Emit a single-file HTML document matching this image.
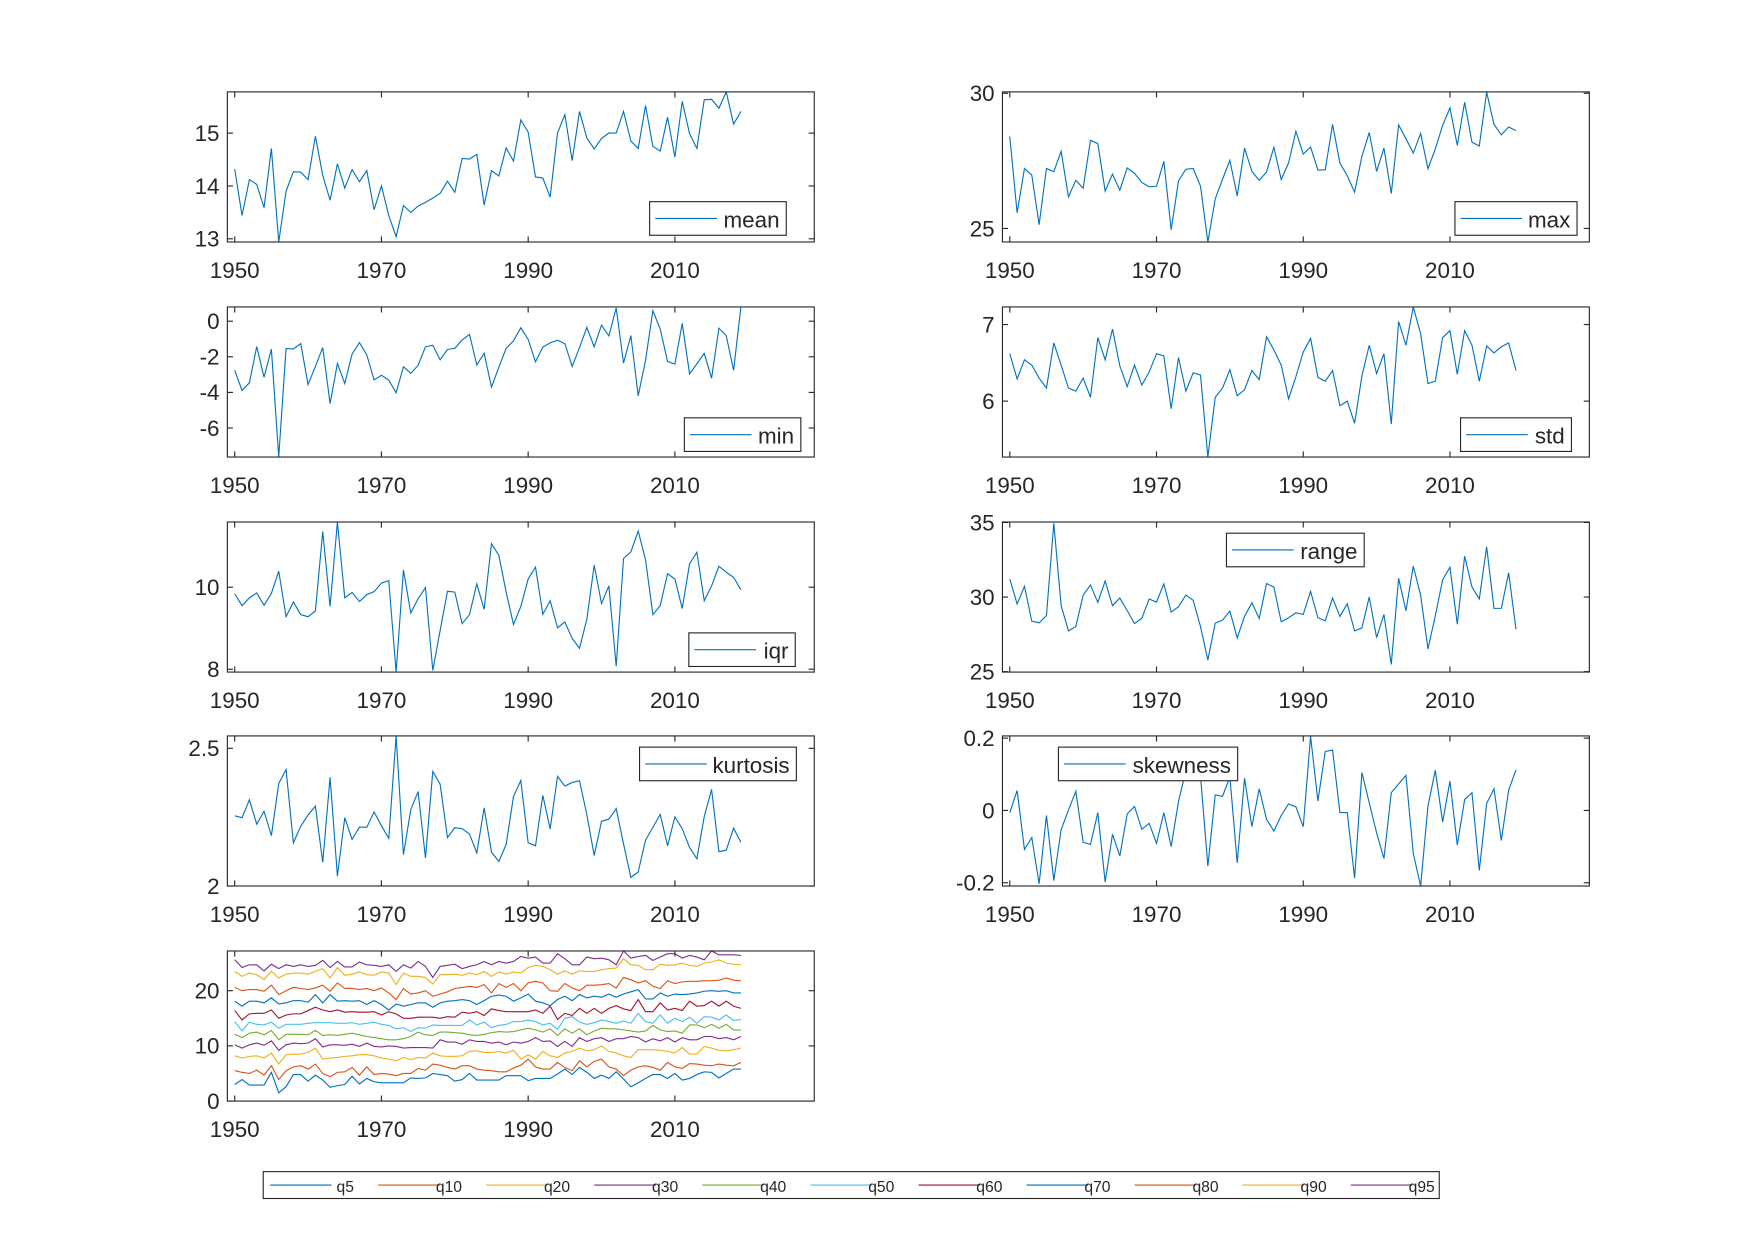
<!DOCTYPE html>
<html><head><meta charset="utf-8"><style>
html,body{margin:0;padding:0;background:#fff;}
svg{display:block;}
text{font-family:"Liberation Sans",Arial,sans-serif;fill:#262626;}
</style></head><body>
<svg id="fig" width="1754" height="1240" viewBox="0 0 1566 1107" xmlns="http://www.w3.org/2000/svg"></svg>
<script>
const years = []; for (let y = 1950; y <= 2019; y++) years.push(y);
const xTicks = [1950, 1970, 1990, 2010];

const meanVals = [14.32,13.44,14.12,14.03,13.59,14.71,12.94,13.9,14.27,14.26,14.12,14.94,14.2,13.73,14.42,13.96,14.31,14.08,14.29,13.55,14.0,13.44,13.04,13.63,13.5,13.62,13.69,13.77,13.86,14.09,13.88,14.52,14.51,14.6,13.64,14.29,14.19,14.72,14.47,15.25,15.02,14.17,14.15,13.79,15.0,15.35,14.48,15.41,14.91,14.7,14.9,15.0,15.0,15.41,14.85,14.71,15.52,14.75,14.66,15.3,14.55,15.6,14.99,14.71,15.63,15.64,15.47,15.78,15.17,15.41];
const maxVals = [28.4,25.58,27.22,26.97,25.14,27.22,27.1,27.85,26.17,26.78,26.49,28.26,28.14,26.38,27.01,26.41,27.24,27.04,26.7,26.54,26.56,27.48,24.95,26.76,27.19,27.22,26.56,24.5,26.09,26.82,27.52,26.2,27.97,27.11,26.78,27.09,28.0,26.81,27.42,28.59,27.75,28.01,27.16,27.17,28.85,27.42,26.95,26.34,27.67,28.55,27.11,27.97,26.29,28.83,28.32,27.79,28.51,27.21,27.94,28.81,29.46,28.07,29.67,28.19,28.05,30.04,28.85,28.46,28.75,28.62];
const minVals = [-2.76,-3.89,-3.46,-1.43,-3.15,-1.57,-7.63,-1.54,-1.56,-1.26,-3.56,-2.54,-1.48,-4.63,-2.37,-3.5,-1.85,-1.2,-1.89,-3.3,-3.04,-3.31,-4.02,-2.56,-2.93,-2.48,-1.44,-1.35,-2.17,-1.59,-1.52,-1.06,-0.74,-2.46,-1.8,-3.7,-2.59,-1.52,-1.11,-0.37,-1.02,-2.28,-1.46,-1.22,-1.07,-1.26,-2.54,-1.48,-0.35,-1.44,-0.22,-0.83,0.74,-2.35,-0.81,-4.19,-2.2,0.59,-0.44,-2.26,-2.41,-0.13,-2.96,-2.39,-1.81,-3.2,-0.39,-0.81,-2.76,0.8];
const stdVals = [6.62,6.29,6.54,6.47,6.3,6.17,6.76,6.47,6.17,6.13,6.3,6.05,6.83,6.54,6.94,6.46,6.19,6.47,6.21,6.38,6.62,6.59,5.9,6.57,6.13,6.37,6.34,5.27,6.05,6.17,6.41,6.07,6.15,6.4,6.28,6.84,6.67,6.47,6.03,6.32,6.64,6.82,6.31,6.26,6.4,5.94,6.0,5.71,6.33,6.73,6.36,6.62,5.7,7.04,6.73,7.23,6.88,6.23,6.26,6.83,6.92,6.35,6.92,6.73,6.26,6.72,6.63,6.71,6.76,6.4];
const iqrVals = [9.84,9.55,9.74,9.86,9.56,9.85,10.39,9.28,9.64,9.33,9.28,9.42,11.36,9.53,11.59,9.74,9.87,9.65,9.82,9.89,10.1,10.16,7.93,10.42,9.37,9.72,9.99,7.97,8.94,9.9,9.88,9.11,9.33,10.08,9.46,11.06,10.78,9.88,9.09,9.53,10.2,10.49,9.34,9.67,9.01,9.15,8.75,8.51,9.22,10.54,9.6,10.03,8.07,10.7,10.86,11.37,10.67,9.33,9.55,10.33,10.2,9.48,10.57,10.85,9.67,10.03,10.51,10.37,10.24,9.94];
const rangeVals = [31.21,29.53,30.72,28.38,28.27,28.76,34.94,29.42,27.73,28.02,30.13,30.81,29.64,31.08,29.42,29.93,29.1,28.22,28.58,29.87,29.66,30.88,28.99,29.35,30.13,29.78,28.02,25.78,28.25,28.45,29.06,27.26,28.7,29.62,28.56,30.9,30.67,28.34,28.61,28.94,28.83,30.38,28.61,28.4,29.93,28.7,29.55,27.73,27.93,30.0,27.28,28.83,25.48,31.26,29.08,32.07,30.13,26.52,28.74,31.15,32.0,28.18,32.74,30.67,29.87,33.37,29.24,29.24,31.62,27.84];
const kurtVals = [2.255,2.248,2.313,2.225,2.271,2.183,2.372,2.423,2.157,2.217,2.258,2.29,2.086,2.395,2.036,2.248,2.169,2.214,2.213,2.269,2.219,2.173,2.545,2.114,2.277,2.343,2.102,2.416,2.37,2.176,2.212,2.208,2.189,2.12,2.284,2.123,2.089,2.151,2.325,2.383,2.157,2.146,2.329,2.207,2.398,2.363,2.376,2.382,2.259,2.111,2.235,2.243,2.281,2.153,2.031,2.051,2.167,2.213,2.26,2.146,2.251,2.208,2.14,2.099,2.252,2.351,2.125,2.13,2.21,2.159];
const skewVals = [-0.006,0.055,-0.108,-0.075,-0.203,-0.014,-0.194,-0.053,0.001,0.053,-0.088,-0.094,-0.006,-0.198,-0.066,-0.126,-0.01,0.011,-0.052,-0.036,-0.091,-0.006,-0.1,0.025,0.11,0.084,0.095,-0.154,0.043,0.039,0.093,-0.145,0.089,-0.045,0.06,-0.025,-0.057,-0.014,0.018,0.01,-0.045,0.205,0.026,0.163,0.167,-0.006,-0.006,-0.187,0.105,0.021,-0.062,-0.133,0.049,0.073,0.097,-0.119,-0.209,0.012,0.111,-0.032,0.081,-0.096,0.03,0.049,-0.166,0.019,0.06,-0.083,0.056,0.112];

const q5 = [3.0,3.9,2.9,2.9,2.9,5.2,1.5,2.6,4.8,4.8,3.6,4.7,3.8,2.5,2.8,3.0,4.5,3.1,4.1,3.5,3.3,3.3,3.3,3.3,4.2,4.1,4.2,5.0,4.8,4.6,3.6,3.9,5.0,3.8,3.8,3.8,3.8,4.6,4.6,4.6,3.7,4.1,4.1,4.1,4.9,5.8,4.8,6.1,5.2,4.1,4.7,4.1,5.3,4.0,2.6,3.3,4.1,4.8,4.8,4.1,5.0,3.8,4.1,4.8,5.3,5.2,4.2,5.0,5.8,5.8];
const q10 = [5.5,5.2,5.0,5.6,4.7,6.4,3.9,5.5,6.2,6.4,5.8,6.7,5.0,4.4,5.2,5.3,6.1,4.7,6.2,4.8,5.0,4.9,4.6,5.0,5.0,5.9,5.6,6.7,6.5,6.1,5.8,6.4,6.4,5.8,5.6,5.5,5.3,5.3,6.0,6.5,7.6,6.2,5.8,5.8,7.0,6.1,5.5,7.3,6.2,7.2,7.6,6.2,5.8,4.6,5.6,6.2,6.4,6.1,5.6,7.0,6.2,5.9,6.8,6.7,6.5,6.4,6.7,6.5,6.4,7.0];
const q20 = [8.2,7.8,8.1,8.2,7.8,8.7,6.7,8.4,8.5,8.5,8.8,9.6,7.6,7.8,7.9,8.1,8.2,8.4,8.4,8.2,7.8,7.6,7.3,7.9,7.5,7.9,7.8,8.7,8.2,8.1,8.1,8.2,9.0,9.1,8.8,8.8,9.0,8.7,9.2,7.6,8.4,7.6,9.0,8.2,7.9,8.7,9.0,9.6,9.1,9.3,10.0,9.0,8.7,8.2,7.9,9.3,9.3,9.3,9.2,9.0,8.7,9.7,8.5,8.5,9.9,9.6,9.2,9.1,9.3,9.6];
const q30 = [10.2,9.6,10.2,10.5,10.1,10.9,9.2,10.2,10.5,10.4,10.5,11.3,9.8,10.2,10.2,10.1,10.3,9.9,10.5,9.9,9.8,10.0,9.9,9.6,9.7,9.7,9.7,9.6,11.1,10.7,10.7,10.3,11.1,10.8,10.8,10.5,10.7,10.2,10.7,10.5,10.8,11.5,10.8,10.9,9.9,10.8,9.9,11.5,10.8,11.3,11.5,10.8,11.3,11.3,11.7,11.5,10.7,11.3,10.9,11.5,10.7,11.5,11.1,11.1,11.7,11.7,11.3,11.5,11.1,11.7];
const q40 = [12.1,11.5,12.3,12.5,12.0,12.8,11.1,12.1,12.1,12.1,12.0,12.8,11.9,12.0,11.9,12.1,12.3,12.0,11.7,11.5,11.3,11.1,11.1,11.3,11.7,12.5,12.0,11.9,12.5,12.5,12.4,12.3,12.0,11.9,12.1,12.4,12.6,12.5,12.6,12.9,13.2,12.9,12.5,13.1,11.9,13.1,12.3,13.1,12.0,12.7,13.2,13.1,13.1,12.9,12.7,12.5,12.7,13.7,12.9,12.6,12.7,12.3,13.8,13.8,13.3,13.9,13.2,13.9,12.9,12.9];
const q50 = [14.4,12.7,14.3,13.9,13.8,14.3,13.2,13.9,13.9,13.9,14.1,14.2,14.2,14.2,14.1,14.1,14.2,13.9,14.1,14.3,13.9,13.7,13.1,13.3,12.6,13.3,13.2,13.8,13.7,13.7,13.7,13.7,14.7,13.8,14.3,13.3,13.7,13.9,14.4,14.4,14.7,14.4,13.8,14.1,13.0,15.0,15.3,14.3,13.9,14.2,14.7,14.4,14.1,14.5,14.1,15.9,14.4,14.1,15.6,14.1,15.0,14.4,15.2,14.1,15.3,15.2,14.7,15.6,14.6,14.8];
const q60 = [16.4,14.7,15.8,15.9,15.9,16.5,15.0,15.6,15.8,15.8,16.4,17.0,16.5,16.2,16.5,16.1,16.2,16.1,16.1,16.2,15.6,16.2,15.8,15.0,15.0,15.2,15.2,15.2,15.0,15.3,15.2,16.1,15.9,16.2,15.5,16.7,16.4,16.2,16.2,16.2,16.2,16.5,15.9,17.2,14.8,15.9,15.5,16.8,15.9,16.8,15.9,16.8,17.3,16.7,16.4,18.4,16.2,16.2,17.8,16.5,16.8,16.4,18.1,17.2,17.3,18.1,17.2,18.1,17.2,16.8];
const q70 = [18.1,17.2,18.1,18.1,17.8,18.7,17.6,17.8,18.2,18.2,17.9,19.3,17.8,19.3,18.1,18.2,18.1,18.2,17.5,18.2,17.5,16.5,17.6,17.2,17.5,17.8,17.8,17.0,17.8,18.1,18.2,18.4,18.2,17.5,18.2,19.0,19.2,19.0,18.1,18.7,19.4,18.1,17.8,17.3,18.4,19.0,18.2,19.3,18.7,19.0,18.8,19.4,18.8,19.4,19.8,20.2,18.5,18.5,19.6,19.0,19.4,19.3,19.4,19.6,19.9,20.0,19.9,20.0,19.6,19.6];
const q80 = [20.6,20.0,20.2,20.2,19.9,21.0,19.3,20.0,20.6,20.4,20.2,20.5,21.0,19.9,21.4,20.4,20.4,20.2,20.4,20.0,20.5,19.6,18.4,20.4,19.4,19.6,20.0,19.0,19.4,19.8,20.4,20.6,20.8,20.6,21.1,19.6,21.3,20.6,21.3,20.0,21.4,21.7,21.4,20.0,19.9,21.3,20.5,20.0,21.0,21.0,21.1,21.3,20.5,22.4,22.0,21.4,21.8,20.8,20.4,21.8,21.3,21.6,21.7,21.7,21.8,21.8,21.9,22.3,21.9,21.8];
const q90 = [23.5,22.6,23.2,22.9,22.0,23.5,22.3,23.0,23.2,23.2,23.0,23.5,24.0,22.3,24.2,22.8,23.0,23.4,22.9,22.8,23.4,23.2,21.1,23.2,22.6,22.6,22.4,21.2,22.9,22.9,23.0,22.8,23.2,22.9,23.5,22.6,23.4,23.0,23.4,23.2,24.2,24.6,24.4,23.8,23.0,23.6,23.0,23.6,23.5,23.5,23.8,24.0,24.1,25.8,24.7,24.6,23.8,23.8,24.8,24.6,24.7,25.0,24.6,24.4,25.0,25.2,25.6,25.0,24.8,24.7];
const q95 = [25.6,24.2,24.7,24.7,23.6,24.8,24.0,24.7,24.4,24.7,24.4,24.6,25.5,24.2,25.3,24.3,24.3,25.2,24.7,24.6,24.4,24.7,23.5,24.7,24.1,25.3,24.4,22.4,24.4,24.6,24.8,24.0,24.4,24.7,25.3,24.7,25.3,25.0,25.3,26.2,25.9,26.1,25.0,25.0,26.7,25.8,24.7,24.7,26.1,25.8,25.9,25.6,24.7,27.2,25.9,26.2,26.4,25.5,26.1,26.7,26.7,25.9,26.4,26.1,25.6,27.2,26.5,26.5,26.5,26.4];
const qNames = ['q5','q10','q20','q30','q40','q50','q60','q70','q80','q90','q95'];

const C = ['#0072BD','#D95319','#EDB120','#7E2F8E','#77AC30','#4DBEEE','#A2142F'];
const NS = 'http://www.w3.org/2000/svg';
const svg = document.getElementById('fig');
function mk(tag, attrs, parent) {
  const e = document.createElementNS(NS, tag);
  for (const k in attrs) e.setAttribute(k, attrs[k]);
  (parent || svg).appendChild(e);
  return e;
}

function panel(name, x0, y0, yTicks, yLabels, ylim, seriesList, legend) {
  const W = 524, H = 134;
  const g = mk('g', {});
  
  
  const xs = v => x0 + (v - 1949) / 80 * W;
  const ys = v => y0 + H - (v - ylim[0]) / (ylim[1] - ylim[0]) * H;
  const clip = mk('clipPath', {id: 'clip-' + name}, g);
  mk('rect', {x: x0, y: y0, width: W, height: H}, clip);
  seriesList.forEach((s) => {
    let d = '';
    s.vals.forEach((v, i) => { d += (i ? 'L' : 'M') + xs(years[i]).toFixed(2) + ' ' + ys(v).toFixed(2); });
    const p = mk('path', {d: d, fill: 'none', stroke: s.color, 'stroke-width': 1, 'clip-path': 'url(#clip-' + name + ')'}, g);
    
    
  });
  const box = mk('rect', {x: x0, y: y0, width: W, height: H, fill: 'none', stroke: '#262626', 'stroke-width': 1}, g);
  
  
  xTicks.forEach(t => {
    const x = xs(t);
    mk('line', {x1: x, y1: y0 + H, x2: x, y2: y0 + H - 5, stroke: '#262626'}, g);
    mk('line', {x1: x, y1: y0, x2: x, y2: y0 + 5, stroke: '#262626'}, g);
    const tx = mk('text', {x: x, y: y0 + H + 32, 'text-anchor': 'middle', 'font-size': 20}, g);
    tx.textContent = t;
    
    
  });
  yTicks.forEach((t, i) => {
    const y = ys(t);
    mk('line', {x1: x0, y1: y, x2: x0 + 5, y2: y, stroke: '#262626'}, g);
    mk('line', {x1: x0 + W, y1: y, x2: x0 + W - 5, y2: y, stroke: '#262626'}, g);
    const ty = mk('text', {x: x0 - 7, y: y + 7, 'text-anchor': 'end', 'font-size': 20}, g);
    ty.textContent = yLabels[i];
    
    
  });
  if (legend) {
    const lg = mk('g', {}, g);
    
    
    mk('rect', {x: legend[0], y: legend[1], width: legend[2], height: 30, fill: '#fff', stroke: '#262626'}, lg);
    mk('line', {x1: legend[0] + 5, y1: legend[1] + 15, x2: legend[0] + 60, y2: legend[1] + 15, stroke: C[0]}, lg);
    const lt = mk('text', {x: legend[0] + legend[2] - 6, y: legend[1] + 23, 'text-anchor': 'end', 'font-size': 20, fill: '#000'}, lg);
    lt.textContent = name;
  }
}

const LX = 203, RX = 895;
const TOPS = [82, 274, 466, 657, 849];
panel('mean', LX, TOPS[0], [13,14,15], ['13','14','15'], [12.94,15.78], [{name:'mean', vals: meanVals, color: C[0]}], [580,180,122]);
panel('max', RX, TOPS[0], [25,30], ['25','30'], [24.5,30.05], [{name:'max', vals: maxVals, color: C[0]}], [1299,180,109]);
panel('min', LX, TOPS[1], [-6,-4,-2,0], ['-6','-4','-2','0'], [-7.63,0.8], [{name:'min', vals: minVals, color: C[0]}], [611,373,104]);
panel('std', RX, TOPS[1], [6,7], ['6','7'], [5.27,7.23], [{name:'std', vals: stdVals, color: C[0]}], [1304,373,99]);
panel('iqr', LX, TOPS[2], [8,10], ['8','10'], [7.93,11.59], [{name:'iqr', vals: iqrVals, color: C[0]}], [615,565,95]);
panel('range', RX, TOPS[2], [25,30,35], ['25','30','35'], [24.97,35.03], [{name:'range', vals: rangeVals, color: C[0]}], [1095,476,123]);
panel('kurtosis', LX, TOPS[3], [2,2.5], ['2','2.5'], [2.0,2.545], [{name:'kurtosis', vals: kurtVals, color: C[0]}], [571,667,140]);
panel('skewness', RX, TOPS[3], [-0.2,0,0.2], ['-0.2','0','0.2'], [-0.209,0.206], [{name:'skewness', vals: skewVals, color: C[0]}], [945,667,160]);
const qSeries = [q5,q10,q20,q30,q40,q50,q60,q70,q80,q90,q95];
panel('quantiles', LX, TOPS[4], [0,10,20], ['0','10','20'], [0,27.2],
  qSeries.map((v, i) => ({name: qNames[i], vals: v, color: C[i % 7]})), null);

// bottom legend
const bl = mk('g', {});


mk('rect', {x: 235, y: 1046, width: 1050, height: 24, fill: '#fff', stroke: '#262626'}, bl);
qNames.forEach((n, i) => {
  const bx = 241 + i * 96.5;
  const e = mk('g', {}, bl);
  
  
  mk('line', {x1: bx, y1: 1058, x2: bx + 55, y2: 1058, stroke: C[i % 7]}, e);
  const t = mk('text', {x: bx + 75, y: 1064, 'text-anchor': 'end', 'font-size': 14, fill: '#000'}, e);
  t.textContent = n;
});
</script>
</body></html>
